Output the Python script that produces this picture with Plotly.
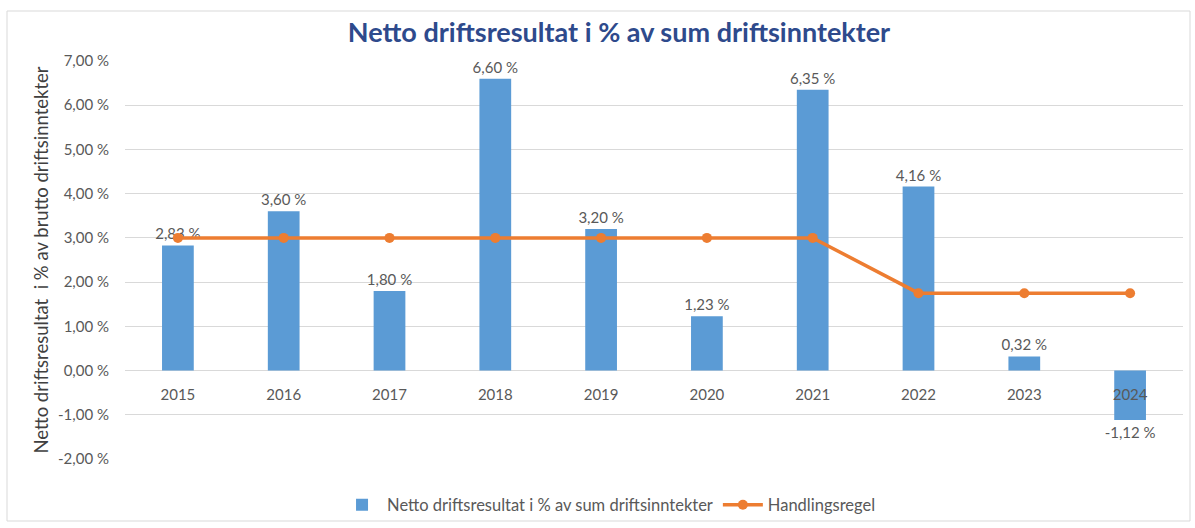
import plotly.graph_objects as go

years = ["2015", "2016", "2017", "2018", "2019", "2020", "2021", "2022", "2023", "2024"]
netto = [2.83, 3.60, 1.80, 6.60, 3.20, 1.23, 6.35, 4.16, 0.32, -1.12]
handlingsregel = [3.0, 3.0, 3.0, 3.0, 3.0, 3.0, 3.0, 1.75, 1.75, 1.75]
y_ticks = [-2, -1, 0, 1, 2, 3, 4, 5, 6, 7]

def fmt(v):
    return f"{v:.2f}".replace(".", ",") + " %"

FONT = "Lato, 'Open Sans', sans-serif"
GRAY = "#595959"

fig = go.Figure()
fig.add_trace(go.Bar(
    x=years, y=netto, name="Netto driftsresultat i % av sum driftsinntekter",
    marker=dict(color="#5B9BD5", line=dict(width=0)),
    width=0.3,
    text=[fmt(v) for v in netto], textposition="outside", constraintext="none",
    textfont=dict(size=15, color=GRAY, family=FONT), cliponaxis=False,
))
fig.add_trace(go.Scatter(
    x=years, y=handlingsregel, name="Handlingsregel", mode="lines+markers",
    line=dict(color="#ED7D31", width=3.5),
    marker=dict(color="#ED7D31", size=10),
))

fig.update_layout(
    width=1195, height=528,
    margin=dict(l=125, r=12, t=61, b=69, autoexpand=False),
    paper_bgcolor="white", plot_bgcolor="white",
    font=dict(family=FONT, color=GRAY, size=15),
    title=dict(text="<b>Netto driftsresultat i % av sum driftsinntekter</b>",
               x=0.518, xanchor="center", y=0.9375, yanchor="middle",
               font=dict(size=27, color="#2E4A8C", family=FONT)),
    showlegend=True,
    legend=dict(orientation="h", x=0.4575, xanchor="center", y=-0.1156, yanchor="middle",
                font=dict(size=16.5, color=GRAY), itemwidth=40,
                bgcolor="rgba(0,0,0,0)"),
    xaxis=dict(type="category", range=[-0.5, 9.5], anchor="free", position=2/9,
               showgrid=False, showline=False, ticks="outside", ticklen=10,
               tickcolor="rgba(0,0,0,0)", tickfont=dict(size=15, color=GRAY),
               automargin=False, fixedrange=True),
    yaxis=dict(range=[-2, 7], tickvals=y_ticks, ticktext=[fmt(v) for v in y_ticks],
               showgrid=True, gridcolor="#D9D9D9", gridwidth=1, zeroline=False,
               ticks="outside", ticklen=12, tickcolor="rgba(0,0,0,0)",
               tickfont=dict(size=15, color=GRAY), automargin=False, fixedrange=True,
               title=dict(text="Netto driftsresultat  i % av brutto driftsinntekter",
                          font=dict(size=18.5, color="#404040"), standoff=4)),
    bargap=0.7,
    shapes=[dict(type="rect", xref="paper", yref="paper",
                 x0=(7 - 125) / 1058, x1=(1190 - 125) / 1058,
                 y0=(459 - 521) / 398, y1=(459 - 11) / 398,
                 line=dict(color="#D9D9D9", width=1), layer="below")],
)

fig.write_html("out.html", config={"displayModeBar": False},
               post_script="document.body.style.margin='0';document.body.style.overflow='hidden';")
